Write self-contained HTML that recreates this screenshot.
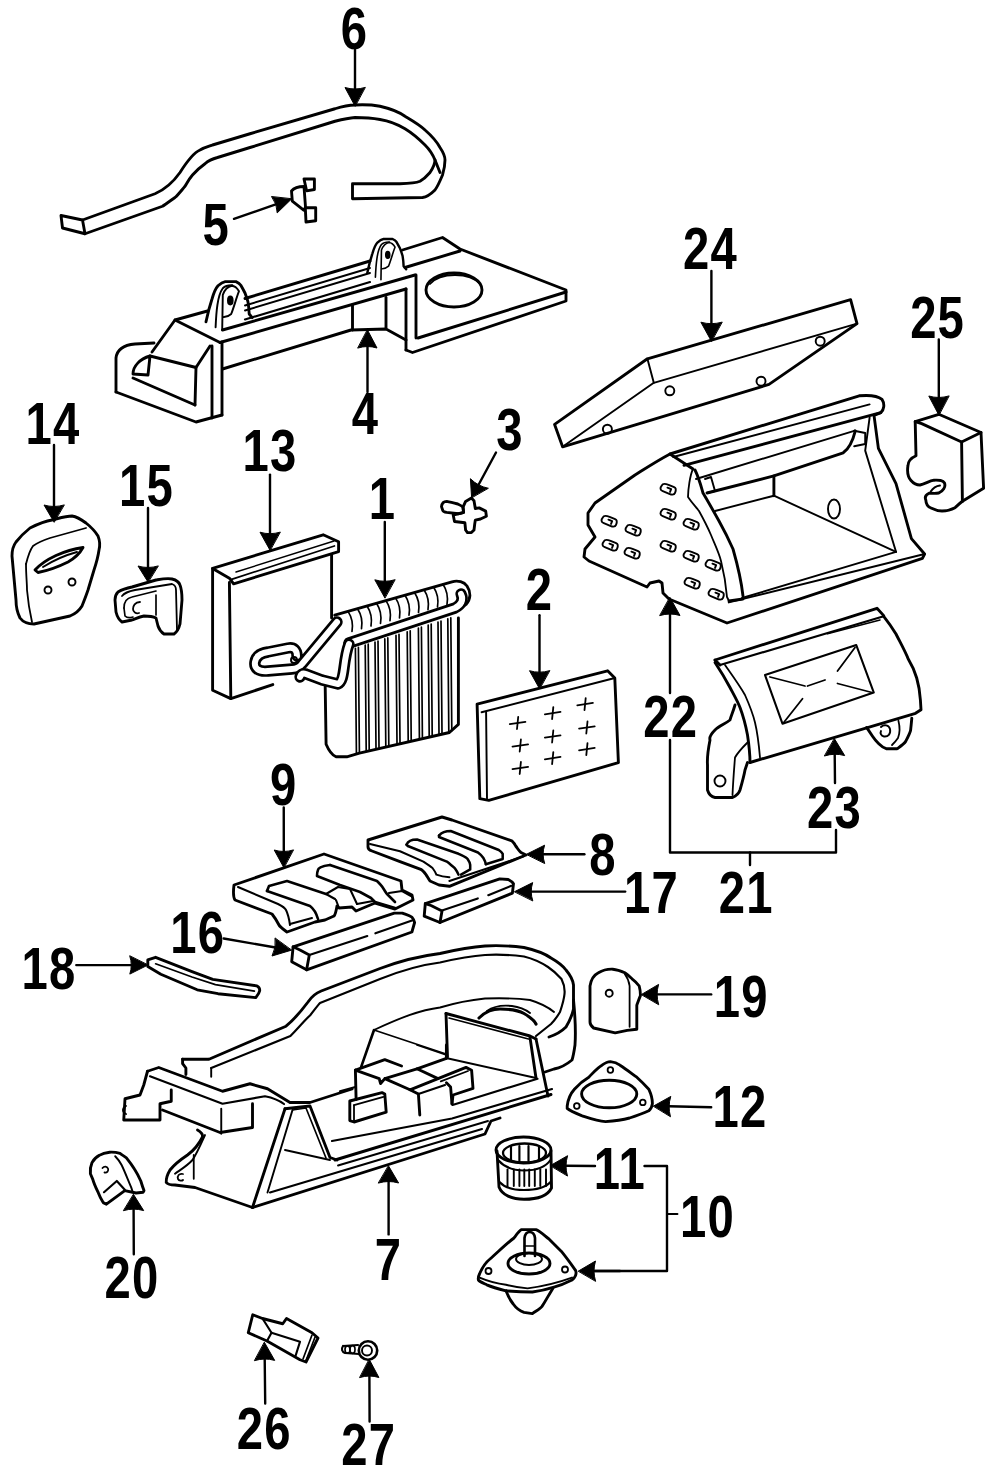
<!DOCTYPE html>
<html><head><meta charset="utf-8"><style>html,body{margin:0;padding:0;background:#fff;}svg{display:block;}</style></head><body>
<svg width="1000" height="1475" viewBox="0 0 1000 1475">
<rect width="1000" height="1475" fill="#fff"/>
<g stroke="#000" stroke-linejoin="round" stroke-linecap="round">
<path d="M82.5,220 L155,193.75 C166,189 174,181 180,172.5 C186,163 193,153 200,150 C205,147 210,146 212.5,145 L250,133.75 L335,108.75 C342,106.5 348,105 355,105 C365,104.5 373,105 380,106.25 C392,109 399,112 405,116.25 C413,121 420,125 425,130 C433,137 437,142 440,147.5 C443,152 445,156 445,160 C445,166 444,170 442.5,175 C440,181 438,186 435,190 C431,194 427,197 422.5,197.5 L352.5,198.75 L352.5,183.75 L400,183.75 C410,183.5 416,183 420,181.25 C424,179 427,176 430,172.5 C433,168 435,164 435,160 C433,155 430,150 425,145 C418,138 412,133 405,128.75 C397,124 389,121 380,119.5 C372,118 365,117.5 355,117.5 C348,118 342,119.5 335,121.25 L250,147.5 L217.5,157.5 C212,159 208,161 205,163.75 C199,168 196,171 192.5,175 C189,179 187,183 185,186.25 C181,191 178,195 175,197.5 C170,201 166,204 162.5,206.25 L85,233.75" stroke-width="2.88" fill="none" />
<path d="M61,215.5 L62.5,228 L85,233.75 L82.5,220 Z" stroke-width="2.88" fill="none" />
<path d="M435,160 L440,172.5" stroke-width="2.88" fill="none" />
<path d="M355,50 L355.0,89.5" stroke-width="2.40" fill="none"/>
<path d="M355.0,106.0 L345.0,87.5 Q355.0,90.5 365.0,87.5 Z" stroke-width="1" fill="#000"/>
<path d="M234,218.8 L276.4,204.2" stroke-width="2.40" fill="none"/>
<path d="M291.5,199.0 L277.2,212.9 Q277.3,203.9 271.7,196.8 Z" stroke-width="1" fill="#000"/>
<path d="M291.5,191 C294,188 298,186.5 304,186.5 L305.5,207 L304,210.3 L292.3,201.2 Z" stroke-width="2.88" fill="none" />
<path d="M304,179 L314.4,179 L314.4,189.5 L306.6,190.8 Z" stroke-width="2.88" fill="none" />
<path d="M305.3,207.7 L315.7,207.7 L315.7,220.7 L306,222 Z" stroke-width="2.88" fill="none" />
<path d="M116,392 L116,358 C117,349 124,345 135,344 L154,343" stroke-width="2.88" fill="none" />
<path d="M152,352 L175,320 L207.5,311" stroke-width="2.88" fill="none" />
<path d="M175,320 L220,342.5" stroke-width="2.88" fill="none" />
<path d="M116,392 L196,422 L222,415" stroke-width="2.88" fill="none" />
<path d="M212,346 L212,418" stroke-width="2.88" fill="none" />
<path d="M222,342 L222,415" stroke-width="2.88" fill="none" />
<path d="M150,356 L196,367.5 L210,346" stroke-width="2.88" fill="none" />
<path d="M196,367.5 L195,405" stroke-width="2.88" fill="none" />
<path d="M150,356 L148,375 L133,374 C133,366 140,359 150,356" stroke-width="2.88" fill="none" />
<path d="M133,378 L195,405" stroke-width="2.88" fill="none" />
<path d="M220,342.5 L406,289" stroke-width="2.88" fill="none" />
<path d="M222.5,330 L415,275" stroke-width="2.88" fill="none" />
<path d="M222.5,369 L351,330 L386,329 L406,340" stroke-width="2.88" fill="none" />
<path d="M352.5,305 L352.5,330" stroke-width="2.88" fill="none" />
<path d="M386,297.5 L386,327.5" stroke-width="2.88" fill="none" />
<path d="M245,298.5 L370,261" stroke-width="2.88" fill="none" />
<path d="M245,305.5 L370,268" stroke-width="1.92" fill="none" />
<path d="M245,310.5 L370,273" stroke-width="1.92" fill="none" />
<path d="M245,319.5 L370,282" stroke-width="2.16" fill="none" />
<path d="M406,289 L406,350" stroke-width="2.88" fill="none" />
<path d="M416,275 L416,338" stroke-width="2.88" fill="none" />
<path d="M206,321.8 C208,312 210,305 212,299 C214,292 216,288 218,285.8 C221,283 223,282 225.2,281.6 L236,281.6 C238,282.5 240,284 240.8,285.2 C243,289 244,291 245,293 C246.5,297 247.5,300 248,302 C248.7,306 249,310 249.2,314 L252.2,317.6" stroke-width="2.88" fill="none" />
<path d="M215.6,327.2 C216,318 216.5,311 217.4,305 C218.5,297 220,292 222.8,288.2 C225,286 228,285 232.4,285.2" stroke-width="1.92" fill="none" />
<path d="M222.2,330 L222.8,294.8 C225,289 228,286.5 231.8,285.8 C235,286 237,288 239,291.2 C236,299 234,307 231.2,314 C229,316 227,317 224,317" stroke-width="1.92" fill="none" />
<ellipse cx="230.3" cy="300.5" rx="2.4" ry="4.0" stroke-width="1.80" fill="#000"/>
<g transform="translate(387.5,239) scale(0.84) translate(-230,-281.6)">
<path d="M206,321.8 C208,312 210,305 212,299 C214,292 216,288 218,285.8 C221,283 223,282 225.2,281.6 L236,281.6 C238,282.5 240,284 240.8,285.2 C243,289 244,291 245,293 C246.5,297 247.5,300 248,302 C248.7,306 249,310 249.2,314 L252.2,317.6" stroke-width="2.88" fill="none" />
<path d="M215.6,327.2 C216,318 216.5,311 217.4,305 C218.5,297 220,292 222.8,288.2 C225,286 228,285 232.4,285.2" stroke-width="1.92" fill="none" />
<path d="M222.2,330 L222.8,294.8 C225,289 228,286.5 231.8,285.8 C235,286 237,288 239,291.2 C236,299 234,307 231.2,314 C229,316 227,317 224,317" stroke-width="1.92" fill="none" />
<ellipse cx="230.3" cy="300.5" rx="2.4" ry="4.0" stroke-width="1.80" fill="#000"/>
</g>
<path d="M402.5,250 L442.5,237.5 L460,249 L566,290 L566,301 L412.5,352.5 L406,350" stroke-width="2.88" fill="none" />
<path d="M405,267.5 L460,251" stroke-width="2.88" fill="none" />
<path d="M566,292 L418,338" stroke-width="2.88" fill="none" />
<ellipse cx="454" cy="290" rx="28" ry="17" stroke-width="2.88" fill="none"/>
<path d="M430,284 C440,272 470,272 480,284" stroke-width="1.80" fill="none" />
<path d="M367.5,392 L367.5,346.0" stroke-width="2.40" fill="none"/>
<path d="M367.5,330.0 L377.0,348.0 Q367.5,345.0 358.0,348.0 Z" stroke-width="1" fill="#000"/>
<path d="M647.4,358.8 L850.6,299.6 L857,323.6 L769,384.4 L562.6,446.8 L554.6,424.4 Z" stroke-width="2.88" fill="none" />
<path d="M647.4,358.8 L653.8,382.8 L857,323.6" stroke-width="1.92" fill="none" />
<path d="M653.8,382.8 L562.6,446.8" stroke-width="1.92" fill="none" />
<circle cx="669.8" cy="390.8" r="4.5" stroke-width="1.92" fill="none"/>
<circle cx="761" cy="381.2" r="4.5" stroke-width="1.92" fill="none"/>
<circle cx="820.2" cy="341.2" r="4.5" stroke-width="1.92" fill="none"/>
<circle cx="607.4" cy="429.2" r="4.5" stroke-width="1.92" fill="none"/>
<path d="M711.4,271 L711.4,324.2" stroke-width="2.40" fill="none"/>
<path d="M711.4,341.2 L700.9,322.2 Q711.4,325.2 721.9,322.2 Z" stroke-width="1" fill="#000"/>
<path d="M938.8,339.4 L938.8,398.0" stroke-width="2.40" fill="none"/>
<path d="M938.8,415.0 L928.8,396.0 Q938.8,399.0 948.8,396.0 Z" stroke-width="1" fill="#000"/>
<path d="M915.2,421.6 L938.8,414.3 L981,432.5 L961.6,442 L921.7,423.6 L915.2,421.6" stroke-width="2.88" fill="none" />
<path d="M961.6,442 L962.4,501.3" stroke-width="2.88" fill="none" />
<path d="M981,432.5 L983.6,488.3 L962.4,501.3" stroke-width="2.88" fill="none" />
<path d="M915.2,421.6 L916,455.8 C911,458 908,461 907.9,466 C907,472 908,477 911,480.5 C914,484 917,485 920,485 C925,484 929,481 934,480.2 C939,480 943,480 944.5,483 C946,487 943,491 938.8,493 C934,494 931,493 929,493.2 C925,495 925,498 925.8,500 C926,504 928,507 931,508 C935,510 938,511 942,511 C947,511 951,510 955,507.8 C958,505 960,503 962.4,501.3" stroke-width="2.88" fill="none" />
<path d="M930.7,491.6 C933,488 936,486 940,485.5" stroke-width="1.92" fill="none" />
<path d="M670,454 C655,462 640,472 635,475 L595,503 L588,513 L588,525 L595,537 L585,549 L584,557 L589,561 L647,587 L650,583 L659,581 L662,583 L663,593 L669,599 L727,623 L922.4,558.4 L924.6,554 L911.4,538.6 L896,483.6 L878.4,448.4 L874,415.4 L880.8,412.6 C884,410 885,404 882,399.4 C878,396 868,395 859.2,395.8 Z" stroke-width="2.88" fill="none" />
<path d="M670,454 L693,469" stroke-width="2.88" fill="none" />
<path d="M673.2,457 L869.6,404.4" stroke-width="1.92" fill="none" />
<path d="M684,465.4 L880.8,412.6" stroke-width="2.88" fill="none" />
<path d="M696,479 L854.2,430.8" stroke-width="1.92" fill="none" />
<path d="M707,493 L773.9,475.9 L843.2,452.8 C850,448 853,440 855.3,430.8" stroke-width="2.88" fill="none" />
<path d="M705,479 L711,477 L715,491 L707,493" stroke-width="1.92" fill="none" />
<path d="M715,511 L773.9,495.7" stroke-width="1.92" fill="none" />
<path d="M773.9,475.9 L773.9,495.7" stroke-width="2.88" fill="none" />
<path d="M773.9,495.7 L896,551.8" stroke-width="1.92" fill="none" />
<path d="M896,551.8 L865.2,450.6 L869.6,417.6" stroke-width="1.92" fill="none" />
<path d="M854.2,430.8 L865.2,433 L865.2,444 L854.2,446.2" stroke-width="1.92" fill="none" />
<path d="M742,598 L896,551.8" stroke-width="1.92" fill="none" />
<path d="M728.8,602.4 L924.6,554" stroke-width="1.92" fill="none" />
<path d="M729,601 L743,599" stroke-width="2.88" fill="none" />
<path d="M693,469 C690,475 688,490 688,497 C692,503 696,507 699,511 C704,520 708,528 711,535 C715,545 719,553 721,561 C724,573 726,585 727,597 L729,601" stroke-width="1.80" fill="none" />
<path d="M695,470 C699,478 701,486 703,493 C709,503 714,512 719,521 C724,530 729,540 733,549 C737,563 741,578 743,596" stroke-width="2.88" fill="none" />
<ellipse cx="834" cy="509" rx="6" ry="9.5" stroke-width="1.92" fill="none"/>
<path transform="translate(668,489) rotate(22)" d="M-7,-1 C-7,-4 -4,-4 -1,-4 L5,-4 C8,-4 8,-1 8,1 C8,4 5,4 3,4 L-4,4 C-7,4 -8,2 -7,-1 M-1,-1 L3,-1 L3,2" stroke-width="1.9" fill="none"/>
<path transform="translate(668,514) rotate(22)" d="M-7,-1 C-7,-4 -4,-4 -1,-4 L5,-4 C8,-4 8,-1 8,1 C8,4 5,4 3,4 L-4,4 C-7,4 -8,2 -7,-1 M-1,-1 L3,-1 L3,2" stroke-width="1.9" fill="none"/>
<path transform="translate(691,524) rotate(22)" d="M-7,-1 C-7,-4 -4,-4 -1,-4 L5,-4 C8,-4 8,-1 8,1 C8,4 5,4 3,4 L-4,4 C-7,4 -8,2 -7,-1 M-1,-1 L3,-1 L3,2" stroke-width="1.9" fill="none"/>
<path transform="translate(609,521) rotate(22)" d="M-7,-1 C-7,-4 -4,-4 -1,-4 L5,-4 C8,-4 8,-1 8,1 C8,4 5,4 3,4 L-4,4 C-7,4 -8,2 -7,-1 M-1,-1 L3,-1 L3,2" stroke-width="1.9" fill="none"/>
<path transform="translate(633,530) rotate(22)" d="M-7,-1 C-7,-4 -4,-4 -1,-4 L5,-4 C8,-4 8,-1 8,1 C8,4 5,4 3,4 L-4,4 C-7,4 -8,2 -7,-1 M-1,-1 L3,-1 L3,2" stroke-width="1.9" fill="none"/>
<path transform="translate(610,545) rotate(22)" d="M-7,-1 C-7,-4 -4,-4 -1,-4 L5,-4 C8,-4 8,-1 8,1 C8,4 5,4 3,4 L-4,4 C-7,4 -8,2 -7,-1 M-1,-1 L3,-1 L3,2" stroke-width="1.9" fill="none"/>
<path transform="translate(632,553) rotate(22)" d="M-7,-1 C-7,-4 -4,-4 -1,-4 L5,-4 C8,-4 8,-1 8,1 C8,4 5,4 3,4 L-4,4 C-7,4 -8,2 -7,-1 M-1,-1 L3,-1 L3,2" stroke-width="1.9" fill="none"/>
<path transform="translate(668,546) rotate(22)" d="M-7,-1 C-7,-4 -4,-4 -1,-4 L5,-4 C8,-4 8,-1 8,1 C8,4 5,4 3,4 L-4,4 C-7,4 -8,2 -7,-1 M-1,-1 L3,-1 L3,2" stroke-width="1.9" fill="none"/>
<path transform="translate(691,556) rotate(22)" d="M-7,-1 C-7,-4 -4,-4 -1,-4 L5,-4 C8,-4 8,-1 8,1 C8,4 5,4 3,4 L-4,4 C-7,4 -8,2 -7,-1 M-1,-1 L3,-1 L3,2" stroke-width="1.9" fill="none"/>
<path transform="translate(713,565) rotate(22)" d="M-7,-1 C-7,-4 -4,-4 -1,-4 L5,-4 C8,-4 8,-1 8,1 C8,4 5,4 3,4 L-4,4 C-7,4 -8,2 -7,-1 M-1,-1 L3,-1 L3,2" stroke-width="1.9" fill="none"/>
<path transform="translate(692,583) rotate(22)" d="M-7,-1 C-7,-4 -4,-4 -1,-4 L5,-4 C8,-4 8,-1 8,1 C8,4 5,4 3,4 L-4,4 C-7,4 -8,2 -7,-1 M-1,-1 L3,-1 L3,2" stroke-width="1.9" fill="none"/>
<path transform="translate(716,594) rotate(22)" d="M-7,-1 C-7,-4 -4,-4 -1,-4 L5,-4 C8,-4 8,-1 8,1 C8,4 5,4 3,4 L-4,4 C-7,4 -8,2 -7,-1 M-1,-1 L3,-1 L3,2" stroke-width="1.9" fill="none"/>
<path d="M670,693 L670.0,613.5" stroke-width="2.40" fill="none"/>
<path d="M670.0,597.5 L680.0,615.5 Q670.0,612.5 660.0,615.5 Z" stroke-width="1" fill="#000"/>
<path d="M670,740 L670,852.5 L836,852.5 L836,830" stroke-width="2.40" fill="none" />
<path d="M750,852.5 L750,865" stroke-width="2.40" fill="none" />
<path d="M715,660 L877,608.3 L883.7,615.6" stroke-width="2.88" fill="none" />
<path d="M720,665 L883.7,616.3" stroke-width="2.16" fill="none" />
<path d="M715,660 L720,665" stroke-width="2.88" fill="none" />
<path d="M883.7,616.3 C889,623 893,629 896,634 C900,642 905,651 908,658.4 C912,665 915,672 916.7,678 C919,686 920,693 920.4,700 L921,709.7 L915.5,713.3 L750,762.5" stroke-width="2.88" fill="none" />
<path d="M715,662.5 C720,670 726,680 730,687.5 C734,695 738,702 740,707.5 C744,718 746,727 747.5,735 C749,745 750,754 750,762.5" stroke-width="2.88" fill="none" />
<path d="M725,665 C732,675 740,686 745,695 C749,704 753,714 755,722.5 C758,735 759,746 760,757.5" stroke-width="1.80" fill="none" />
<path d="M735,705 C733,712 731,716 730,720 C725,724 719,726 715,730 C711,734 709,737 710,740 C708,750 707,758 707.5,765 L707.5,790 C709,795 712,797 715,797.5 L732.5,797.5 C736,796 739,793 740,790 C742,783 744,776 745,770 L747.5,762.5" stroke-width="2.88" fill="none" />
<path d="M747.5,742.5 C742,748 738,752 735,757.5 C734,770 733,783 732.5,795" stroke-width="1.80" fill="none" />
<circle cx="720" cy="781" r="5.5" stroke-width="1.92" fill="none"/>
<path d="M765,675 L856.25,645 L873.75,692.5 L782.5,723.75 Z" stroke-width="2.16" fill="none" />
<path d="M770,677 L805,686" stroke-width="1.80" fill="none" />
<path d="M837.5,671 L855,647.5" stroke-width="1.80" fill="none" />
<path d="M837.5,683.5 L872,692.5" stroke-width="1.80" fill="none" />
<path d="M802.5,698.75 L783.75,722.5" stroke-width="1.80" fill="none" />
<path d="M807.5,686 L825,680" stroke-width="1.80" fill="none" />
<path d="M827.5,633.75 L880,620" stroke-width="1.56" fill="none" />
<path d="M866.6,727.4 C869,731 871,734 872.7,736.5 C875,740 877,742 878.8,743.8 C881,746 884,748 886.2,748.7 L897.2,748.7 C901,746 904,744 905.7,741.4 C908,737 910,733 910.6,730.4 C911,726 911.5,722 911.8,718.2" stroke-width="2.88" fill="none" />
<path d="M881,727 C884,724 889,725 890,729 C891,734 888,737 884,736.5 C881,736 880,733 881,731" stroke-width="1.92" fill="none" />
<path d="M898.4,720.6 C900,727 900,733 898,738 C896,741 894,743 892,745" stroke-width="1.80" fill="none" />
<path d="M835,783 L834.7,753.7" stroke-width="2.40" fill="none"/>
<path d="M834.5,738.8 L844.7,755.6 Q834.7,752.7 824.7,755.9 Z" stroke-width="1" fill="#000"/>
<path d="M54,445 L54.0,507.0" stroke-width="2.40" fill="none"/>
<path d="M54.0,522.0 L44.0,505.0 Q54.0,508.0 64.0,505.0 Z" stroke-width="1" fill="#000"/>
<path d="M30,528 C38,524 45,521 52,520 C60,518 66,516 72,516 C78,517 82,520 86,523 C91,527 95,531 98,536 C100,541 100,546 99,550 C98,557 96,564 94,570 L88,590 C86,596 84,601 82,606 C79,611 75,614 70,616 L34,624 C28,624 23,622 20,618 C17,612 16,606 16,600 L12,556 C12,550 13,546 16,542 C20,537 25,532 30,528 Z" stroke-width="2.88" fill="none" />
<path d="M26,564 C28,556 30,550 33,546 C38,542 44,540 50,538 L86,528" stroke-width="1.80" fill="none" />
<path d="M26,564 C26,575 27,583 27,590 C28,602 30,613 32,622" stroke-width="1.80" fill="none" />
<path d="M35,570 C45,559 65,550 83,547.5 C80,553 75,558 68,562 C58,567 46,571 38,572.5 Z" stroke-width="2.88" fill="none" />
<path d="M43,567 C54,560 66,555 77,552" stroke-width="1.92" fill="none" />
<circle cx="48" cy="590" r="3.5" stroke-width="1.92" fill="none"/>
<circle cx="72" cy="582" r="3.5" stroke-width="1.92" fill="none"/>
<path d="M148,508 L148.0,568.0" stroke-width="2.40" fill="none"/>
<path d="M148.0,582.0 L138.0,566.0 Q148.0,569.0 158.0,566.0 Z" stroke-width="1" fill="#000"/>
<path d="M118,592 C123,589 127,588 132,587 L156,580 C162,579 167,578 172,579 C176,580 179,582 180,585 C182,590 182,595 182,600 L180,624 C179,628 177,632 174,634 L164,634 C161,632 159,629 158,626 L156,618 C152,616 148,616 144,616 C139,617 135,619 132,620 L122,622 C119,620 117,616 116,612 L115,600 C115,597 116,594 118,592 Z" stroke-width="2.88" fill="none" />
<path d="M122,596 C125,592 130,591 135,590 L172,584 C175,585 176,587 176,590 L177,630" stroke-width="1.80" fill="none" />
<path d="M124,608 C124,601 127,598 132,597 L156,591" stroke-width="1.68" fill="none" />
<path d="M124,608 L125,616 C127,618 130,618 133,617" stroke-width="1.68" fill="none" />
<path d="M140,602 C135,602 133,606 133,609 C133,612 136,614 139,613" stroke-width="1.80" fill="none" />
<path d="M156,595 L156,615" stroke-width="1.68" fill="none" />
<path d="M270,474.6 L270.0,534.2" stroke-width="2.40" fill="none"/>
<path d="M270.0,550.2 L260.0,532.2 Q270.0,535.2 280.0,532.2 Z" stroke-width="1" fill="#000"/>
<path d="M212.6,568.4 L323.2,534.8 L338.6,541.8 L338.6,551.6 L233.6,583.8 L229.4,578.2 Z" stroke-width="2.88" fill="none" />
<path d="M230.8,579.6 L334.4,546" stroke-width="1.80" fill="none" />
<path d="M236,572 L334,541" stroke-width="1.44" fill="none" />
<path d="M212.6,568.4 L212.6,690.2 L230.8,698.6 L272.8,684.6" stroke-width="2.88" fill="none" />
<path d="M229.4,582.4 L230.8,698.6" stroke-width="2.88" fill="none" />
<path d="M331.6,554.4 L331.6,618" stroke-width="2.88" fill="none" />
<path d="M384.8,522 L384.8,581.8" stroke-width="2.40" fill="none"/>
<path d="M384.8,597.8 L374.8,579.8 Q384.8,582.8 394.8,579.8 Z" stroke-width="1" fill="#000"/>
<path d="M325.2,686.6 L326.1,744.2 C329,751 332,755 336,756.8 L346.8,756.8 L359.4,753.2 L449.4,732.5 L458.4,724.4 L458.4,618" stroke-width="2.88" fill="none" />
<path d="M355.4,648.237 L356.4,753.132" stroke-width="1.68" fill="none" />
<path d="M358.4,647.237 L359.4,752.132" stroke-width="1.68" fill="none" />
<path d="M365.2,645.12 L366.2,750.849" stroke-width="1.68" fill="none" />
<path d="M368.2,644.12 L369.2,749.849" stroke-width="1.68" fill="none" />
<path d="M375,642.004 L376,748.565" stroke-width="1.68" fill="none" />
<path d="M378,641.004 L379,747.565" stroke-width="1.68" fill="none" />
<path d="M384.8,638.888 L385.8,746.282" stroke-width="1.68" fill="none" />
<path d="M387.8,637.888 L388.8,745.282" stroke-width="1.68" fill="none" />
<path d="M396,635.326 L397,743.672" stroke-width="1.68" fill="none" />
<path d="M399,634.326 L400,742.672" stroke-width="1.68" fill="none" />
<path d="M407.2,631.764 L408.2,741.063" stroke-width="1.68" fill="none" />
<path d="M410.2,630.764 L411.2,740.063" stroke-width="1.68" fill="none" />
<path d="M418.4,628.203 L419.4,738.453" stroke-width="1.68" fill="none" />
<path d="M421.4,627.203 L422.4,737.453" stroke-width="1.68" fill="none" />
<path d="M428.2,625.086 L429.2,736.17" stroke-width="1.68" fill="none" />
<path d="M431.2,624.086 L432.2,735.17" stroke-width="1.68" fill="none" />
<path d="M438,621.97 L439,733.886" stroke-width="1.68" fill="none" />
<path d="M441,620.97 L442,732.886" stroke-width="1.68" fill="none" />
<path d="M447.8,618.854 L448.8,731.603" stroke-width="1.68" fill="none" />
<path d="M450.8,617.854 L451.8,730.603" stroke-width="1.68" fill="none" />
<path d="M334.7,615.2 L452,581.8 C458,580 464,582 467,586 C471,592 471,599 466,604.5 C462,608 459,609 456.6,609.4" stroke-width="2.88" fill="none" />
<path d="M348.0,611.4 C352.0,617.4 353.0,625.4 352.0,631.4" stroke-width="1.68" fill="none" />
<path d="M357.5,608.7 C361.5,614.7 362.5,622.7 361.5,628.7" stroke-width="1.68" fill="none" />
<path d="M367.0,606.0 C371.0,612.0 372.0,620.0 371.0,626.0" stroke-width="1.68" fill="none" />
<path d="M376.5,603.3 C380.5,609.3 381.5,617.3 380.5,623.3" stroke-width="1.68" fill="none" />
<path d="M386.0,600.6 C390.0,606.6 391.0,614.6 390.0,620.6" stroke-width="1.68" fill="none" />
<path d="M395.5,597.9 C399.5,603.9 400.5,611.9 399.5,617.9" stroke-width="1.68" fill="none" />
<path d="M405.0,595.2 C409.0,601.2 410.0,609.2 409.0,615.2" stroke-width="1.68" fill="none" />
<path d="M414.5,592.5 C418.5,598.5 419.5,606.5 418.5,612.5" stroke-width="1.68" fill="none" />
<path d="M424.0,589.7 C428.0,595.7 429.0,603.7 428.0,609.7" stroke-width="1.68" fill="none" />
<path d="M433.5,587.0 C437.5,593.0 438.5,601.0 437.5,607.0" stroke-width="1.68" fill="none" />
<path d="M443.0,584.3 C447.0,590.3 448.0,598.3 447.0,604.3" stroke-width="1.68" fill="none" />
<path d="M349,643 L455,608 C461,605 464,600 461,594" stroke-width="11.40" fill="none" />
<path d="M349,643 L455,608 C461,605 464,600 461,594" stroke-width="6.00" fill="none" stroke="#fff"/>
<path d="M337,622 L302,664 C299,668 296,669 292,669 L268,671 C258,672 254,668 255,662 C256,656 261,653 268,652 L288,648 C294,647 297,650 297,656" stroke-width="11.40" fill="none" />
<path d="M337,622 L302,664 C299,668 296,669 292,669 L268,671 C258,672 254,668 255,662 C256,656 261,653 268,652 L288,648 C294,647 297,650 297,656" stroke-width="6.00" fill="none" stroke="#fff"/>
<path d="M349,644 C346,652 345,660 344,668 C343,676 342,682 338,684 L322,680 L306,674 C303,673 301,674 300,677" stroke-width="11.40" fill="none" />
<path d="M349,644 C346,652 345,660 344,668 C343,676 342,682 338,684 L322,680 L306,674 C303,673 301,674 300,677" stroke-width="6.00" fill="none" stroke="#fff"/>
<circle cx="294" cy="660" r="3" stroke-width="1.92" fill="none"/>
<path d="M496,452.5 L478.3,485.2" stroke-width="2.40" fill="none"/>
<path d="M471.6,497.5 L470.4,478.7 Q477.8,486.1 488.0,488.2 Z" stroke-width="1" fill="#000"/>
<path d="M465.6,501.4 L471.4,498.1 L474,500.7 L475.3,508.5 L479.2,507.9 L485.7,511.1 L486.4,516.3 L480.5,519 L475.3,520.2 L474.7,524.1 L474,530 L471.4,532.6 L467.5,532.6 L465.6,530 L464.9,522.8 L454.5,521.5 L453.2,515 L463.6,512.4 L463,507.2 Z" stroke-width="2.88" fill="none" />
<path d="M441.5,506.6 C442,503 444,501.4 446.7,501.4 C450,502 454,503 457.8,504 C460,505 462,506 463,507.2 L463.6,512.4 C461,513.5 459,513.7 458.4,513.7 L446.7,512.4 C444,512 443,511 442.8,510.5 Z" stroke-width="2.88" fill="none" />
<path d="M539.5,615.2 L539.5,672.7" stroke-width="2.40" fill="none"/>
<path d="M539.5,688.7 L529.5,670.7 Q539.5,673.7 549.5,670.7 Z" stroke-width="1" fill="#000"/>
<path d="M477.1,704.1 L607.6,670.8 L614.8,678 L618.4,762.6 L488.8,800.4 L479.8,798.6 Z" stroke-width="2.88" fill="none" />
<path d="M481.6,712.2 L614.8,678" stroke-width="1.92" fill="none" />
<path d="M486.1,712.2 L487,798.6" stroke-width="1.92" fill="none" />
<path d="M509.8,724.2 L525.4,721.8" stroke-width="1.80" fill="none" />
<path d="M518.2,717 L517,729" stroke-width="1.80" fill="none" />
<path d="M544.9,714.3 L560.5,711.9" stroke-width="1.80" fill="none" />
<path d="M553.3,707.1 L552.1,719.1" stroke-width="1.80" fill="none" />
<path d="M577.3,705.3 L592.9,702.9" stroke-width="1.80" fill="none" />
<path d="M585.7,698.1 L584.5,710.1" stroke-width="1.80" fill="none" />
<path d="M512.5,746.7 L528.1,744.3" stroke-width="1.80" fill="none" />
<path d="M520.9,739.5 L519.7,751.5" stroke-width="1.80" fill="none" />
<path d="M544.9,737.7 L560.5,735.3" stroke-width="1.80" fill="none" />
<path d="M553.3,730.5 L552.1,742.5" stroke-width="1.80" fill="none" />
<path d="M579.1,728.7 L594.7,726.3" stroke-width="1.80" fill="none" />
<path d="M587.5,721.5 L586.3,733.5" stroke-width="1.80" fill="none" />
<path d="M512.5,769.2 L528.1,766.8" stroke-width="1.80" fill="none" />
<path d="M520.9,762 L519.7,774" stroke-width="1.80" fill="none" />
<path d="M544.9,759.3 L560.5,756.9" stroke-width="1.80" fill="none" />
<path d="M553.3,752.1 L552.1,764.1" stroke-width="1.80" fill="none" />
<path d="M579.1,750.3 L594.7,747.9" stroke-width="1.80" fill="none" />
<path d="M587.5,743.1 L586.3,755.1" stroke-width="1.80" fill="none" />
<path d="M283.75,807.5 L283.8,852.0" stroke-width="2.40" fill="none"/>
<path d="M283.8,867.5 L274.2,850.0 Q283.8,853.0 293.2,850.0 Z" stroke-width="1" fill="#000"/>
<path d="M234,885 L324,854 L401,881 L402,890 L412,895 L413,900 L395,909 L375,903 L356,911 L352,907 L339,908 L337,906 C336,912 335,915 334,916 L325,920 L315,922 L287,932 C283,929 280,927 279,925 C277,921 276,919 272,914 L235,900 C233,897 233,893 234,885 Z" stroke-width="2.88" fill="none" />
<path d="M238,887 L278,904 C282,906 285,908 286,910 C288,914 289,918 290,925" stroke-width="2.04" fill="none" />
<path d="M267,891 L269,886 L287,881 L326,894" stroke-width="2.64" fill="none" />
<path d="M267,891 L290,899 L310,906 C314,909 316,912 318,919" stroke-width="2.64" fill="none" />
<path d="M290,924 L312,918" stroke-width="2.04" fill="none" />
<path d="M330,865 L377,881 C380,884 382,886 383,888 C385,891 386,893 387,894 L395,902" stroke-width="2.64" fill="none" />
<path d="M330,865 C322,866 318,868 318,870 C317,872 317,874 317,876 L340,885 L360,892 L371,898 L375,902 L395,908" stroke-width="2.64" fill="none" />
<path d="M389,893 L402,891 L411,896" stroke-width="2.04" fill="none" />
<path d="M326,894 L338,887 L350,889 L357,904" stroke-width="2.04" fill="none" />
<path d="M336,900 L339,908" stroke-width="2.04" fill="none" />
<path d="M335,899 L326,894" stroke-width="2.04" fill="none" />
<path d="M357,904 L373,901" stroke-width="2.04" fill="none" />
<path d="M584.4,854.2 L542.6,854.2" stroke-width="2.40" fill="none"/>
<path d="M526.6,854.2 L544.6,845.2 Q541.6,854.2 544.6,863.2 Z" stroke-width="1" fill="#000"/>
<path d="M368,840 L442,817 L452,820 L511.8,840.8 C514,843 515,844.5 515.7,846 C518,849 519,851 521,852.5 L526,855 L449.4,886.3 L439,885 L430,881 C428,878 427,876 426,874.6 C424,872 422,870 420.8,869.4 L400,861.6 L372,851 C369,850 368,849 368,847 Z" stroke-width="2.88" fill="none" />
<path d="M370,844 L400,851.2 L423.4,861.6 C427,864 430,866 432.5,868 C434,870 435.5,872 436.4,874.6 C440,876 445,877 449.4,877.2" stroke-width="2.04" fill="none" />
<path d="M449.4,881 L523.5,856.4" stroke-width="2.04" fill="none" />
<path d="M406.5,844.7 C408,841 412,839.5 417,839.5 L458.5,853.8 C463,856 466,857 467.6,859 C469,861 470,863 470.2,865 L470.2,869.4 L461,874.6" stroke-width="2.52" fill="none" />
<path d="M406.5,844.7 L407.8,846 L446.8,861.6 C450,864 452,866 454.6,868 C456,870 457.5,872 458.5,874.6" stroke-width="2.52" fill="none" />
<path d="M439,835.6 C442,832 446,831 450.7,831 L498.8,850 C501,851.5 502,852.5 502.7,853.8 L502.7,859 L485.8,864.2" stroke-width="2.52" fill="none" />
<path d="M439,835.6 L439,837 L478,852.5 C480,854 482,856 483.2,857.7 C484.5,860 485.5,862 485.8,864.2" stroke-width="2.52" fill="none" />
<path d="M625.2,891.6 L530.7,891.6" stroke-width="2.40" fill="none"/>
<path d="M514.7,891.6 L532.7,882.6 Q529.7,891.6 532.7,900.6 Z" stroke-width="1" fill="#000"/>
<path d="M425.3,903.6 L499.8,878.9 L508.2,879.5 C511,881 512.5,882 513.5,883.7 L512.4,893.1 L440,922.5 L424.2,916.2 Z" stroke-width="2.88" fill="none" />
<path d="M425.3,903.6 L431,905.5 L442,911 L440,922.5" stroke-width="2.88" fill="none" />
<path d="M442,910.4 L477.8,898.4" stroke-width="2.16" fill="none" />
<path d="M488.3,895.2 L511.4,885.8" stroke-width="2.16" fill="none" />
<path d="M223.7,938.5 L275.5,947.5" stroke-width="2.40" fill="none"/>
<path d="M291.3,950.2 L272.0,956.0 Q276.5,947.6 275.1,938.3 Z" stroke-width="1" fill="#000"/>
<path d="M293.1,946.8 L394.3,913.1 L402.4,913.1 C406,914.5 409.5,915.5 411.9,917.1 C413.5,919 414.3,920.5 414.6,922.5 L411.9,932 L306.6,969.8 L291.7,961.7 Z" stroke-width="2.88" fill="none" />
<path d="M293.1,946.8 L300,950 L309.3,955 L306.6,969.8" stroke-width="2.88" fill="none" />
<path d="M309.3,955 L367.3,936" stroke-width="2.16" fill="none" />
<path d="M375.4,933.3 L412,920.5" stroke-width="2.16" fill="none" />
<path d="M76.3,965.1 L131.8,965.1" stroke-width="2.40" fill="none"/>
<path d="M147.8,965.1 L129.8,974.1 Q132.8,965.1 129.8,956.1 Z" stroke-width="1" fill="#000"/>
<path d="M147.8,959.9 L155.6,957.3 L192,971.6 L212.8,979.4 L257,985.9 C259,987 260,989 259.6,991.1 C259,994 257,996 255.7,997.6 L218,993.7 L197.2,989.8 L160.8,974.2 L147.8,966.4 Z" stroke-width="2.88" fill="none" />
<path d="M155.6,963.8 L192,977 L215.4,984.6 L254.4,991.1" stroke-width="1.68" fill="none" />
<path d="M182.6,1059.2 L209,1059.2 L286,1026.2 C296,1018 302,1010 308,1002 C312,996 316,993 321.2,991 L380,968.5 C400,961 420,956 440,953.5 C455,950 470,947 485,946 C500,945 512,946 524,947.5 C535,950 544,953 551,958 C558,962 563,966 566,970 C571,976 573,980 573.5,985 L573.5,1009 C572,1016 569,1022 566,1027 C561,1032 555,1035 549,1037" stroke-width="2.88" fill="none" />
<path d="M211.2,1068 L290.4,1036.1 C300,1026 305,1020 310.2,1015.2 C316,1008 318,1005 320,1003 L380,979 C400,971 420,965 440,962.5 C455,959 470,956 485,955 C500,954 512,955 524,956.5 C534,959 542,963 548,967 C554,971 558,975 561.5,979 C564,984 565,989 564.5,994 C564,1000 562,1006 560,1012 C557,1017 554,1021 551,1024 L536,1036" stroke-width="2.16" fill="none" />
<path d="M573.5,1000 C575,1015 576,1030 575,1045 C574,1052 573,1057 572,1060 C566,1065 560,1068 554,1069 L545,1072" stroke-width="2.88" fill="none" />
<path d="M182.6,1059.2 L182.6,1063.6 L185.9,1068 L185.9,1074.6" stroke-width="2.88" fill="none" />
<path d="M211.2,1068 L211.2,1076.8" stroke-width="1.92" fill="none" />
<path d="M147.5,1071.25 L158.75,1067.5 L222.5,1091.25 L250,1083.75 L267.5,1088.75 L290,1102.5 L310,1102.5 L352,1089" stroke-width="2.88" fill="none" />
<path d="M150,1076.25 L222.5,1103.75 L265,1096.25 C274,1098 280,1101 284,1104" stroke-width="2.16" fill="none" />
<path d="M147.5,1071.25 L143.75,1085 L140,1095 L125,1098.75 L123.75,1120 L160,1120 L160,1103.75 L171.25,1101.25 L171.25,1090" stroke-width="2.88" fill="none" />
<path d="M126,1106 C122,1108 122,1112 126,1114" stroke-width="1.92" fill="none" />
<path d="M162.5,1110 L220,1132.5 L252.5,1127.5 L252.5,1103.75" stroke-width="2.88" fill="none" />
<path d="M221.25,1108.75 L221.25,1133.75" stroke-width="1.92" fill="none" />
<path d="M197.5,1130 C201,1132 203,1134 202.5,1137 C198,1146 193,1151 187.5,1155 C180,1160 174,1165 170,1170 C167,1175 166,1179 166.25,1182.5 C168,1185 171,1185 175,1185 L195,1187.5 L252.5,1207.5" stroke-width="2.88" fill="none" />
<path d="M205,1135 C200,1146 197,1153 192.5,1160 C187,1166 180,1170 175,1173.75" stroke-width="1.92" fill="none" />
<path d="M183,1174 C179,1173 177,1176 178,1179 C179,1181 182,1181 183,1180" stroke-width="1.80" fill="none" />
<path d="M193.75,1155 L193.75,1178.75" stroke-width="1.80" fill="none" />
<path d="M252.5,1207.5 L285,1108.75" stroke-width="2.88" fill="none" />
<path d="M267.5,1192.5 L292.5,1110" stroke-width="1.92" fill="none" />
<path d="M285,1108.75 L310,1106 L330,1157.5 L337,1160" stroke-width="2.88" fill="none" />
<path d="M292.5,1110 L306,1108 L326,1158" stroke-width="1.68" fill="none" />
<path d="M285,1150 L330,1160" stroke-width="1.92" fill="none" />
<path d="M252.5,1207.5 L485,1134 L491,1121 L500,1118" stroke-width="2.88" fill="none" />
<path d="M270,1192.5 L482,1129" stroke-width="2.16" fill="none" />
<path d="M335,1160 L551,1094.5" stroke-width="2.88" fill="none" />
<path d="M338,1165.5 L488,1121" stroke-width="1.92" fill="none" />
<path d="M332,1141 L452,1118.5 L552,1089" stroke-width="2.16" fill="none" />
<path d="M374,1030 C400,1018 420,1010 440,1007.5 C455,1003 470,1000 485,998.5 C500,998 515,998 530,1000 C540,1003 548,1007 554,1012" stroke-width="1.92" fill="none" />
<path d="M374,1030 L446,1054" stroke-width="1.80" fill="none" />
<path d="M446,1058 L536,1078" stroke-width="1.80" fill="none" />
<path d="M479,1018 C485,1012 492,1009 500,1009 C510,1009 518,1010 524,1013.5 C530,1017 534,1020 536,1024" stroke-width="3.12" fill="none" />
<path d="M487,1011 C494,1006 503,1005 512,1006 C520,1007 526,1010 530,1013" stroke-width="1.92" fill="none" />
<path d="M446,1013.5 L530,1036 L536,1039" stroke-width="2.88" fill="none" />
<path d="M446,1013.5 L447.5,1057" stroke-width="2.88" fill="none" />
<path d="M530,1037.5 L536,1078" stroke-width="2.88" fill="none" />
<path d="M536,1039 L548,1096" stroke-width="2.88" fill="none" />
<path d="M449,1018 L528.5,1039" stroke-width="1.56" fill="none" />
<path d="M452.5,1105 L537.5,1078.75" stroke-width="2.16" fill="none" />
<path d="M374,1030 L361,1067.4" stroke-width="2.64" fill="none" />
<path d="M355.4,1070.2 L384.8,1059.7 L401.6,1066" stroke-width="2.88" fill="none" />
<path d="M355.4,1070.2 L356.1,1099.6" stroke-width="2.88" fill="none" />
<path d="M355.4,1070.2 L379.2,1078.6 L380.6,1083.5 L384.8,1078.6 L417,1068.8 L438,1078.6 L410,1089.8 L384.8,1078.6" stroke-width="2.88" fill="none" />
<path d="M410,1089.8 L418.4,1094 L419.8,1115" stroke-width="2.88" fill="none" />
<path d="M418.4,1094 L445,1085" stroke-width="2.16" fill="none" />
<path d="M417,1068.8 L446.4,1058.3" stroke-width="2.88" fill="none" />
<path d="M438,1078.6 L466,1067.4 L471.6,1070.2 L473,1088.4 L453,1095 L452,1103.8" stroke-width="2.88" fill="none" />
<path d="M440.8,1081.4 L468,1071" stroke-width="1.80" fill="none" />
<path d="M446.4,1082.8 L450.6,1087 L452,1103.8" stroke-width="2.88" fill="none" />
<path d="M349.8,1101 L382,1092.6 L384.8,1094 L386.2,1112.2 L354,1122 L349.8,1120.6 Z" stroke-width="2.88" fill="none" />
<path d="M354,1105.2 L383.4,1096.8" stroke-width="1.80" fill="none" />
<path d="M354,1105.2 L354,1122" stroke-width="1.80" fill="none" />
<path d="M446.4,1045 L446.4,1058.3" stroke-width="2.88" fill="none" />
<path d="M417,1045 L446.4,1054.8" stroke-width="1.80" fill="none" />
<path d="M340,1091.2 L355.4,1087" stroke-width="2.16" fill="none" />
<path d="M388.6,1234.4 L388.6,1181.0" stroke-width="2.40" fill="none"/>
<path d="M388.6,1166.0 L398.6,1183.0 Q388.6,1180.0 378.6,1183.0 Z" stroke-width="1" fill="#000"/>
<path d="M711.2,994.4 L656.6,994.4" stroke-width="2.40" fill="none"/>
<path d="M641.6,994.4 L658.6,984.4 Q655.6,994.4 658.6,1004.4 Z" stroke-width="1" fill="#000"/>
<path d="M590,986 C591,980 594,975 598.4,972.8 C603,970 608,969 612.8,969.2 C617,969.5 621,971 624.8,972.8 C628,975 630,977 632,978.8 C635,981 637,983 639.2,986 C640,989 640.5,992 640.4,995.6 C639,999 638,1002 636.8,1005.2 L636.8,1029.2 L627.2,1030.4 L615.2,1032.8 L593.6,1028 C591,1026 590,1024 590,1022 Z" stroke-width="2.88" fill="none" />
<path d="M624.8,974 C627,977 629,981 629.6,986 L629.6,1026.8" stroke-width="1.80" fill="none" />
<circle cx="609.2" cy="993.2" r="3.5" stroke-width="1.92" fill="none"/>
<path d="M711.2,1107.2 L668.6,1106.3" stroke-width="2.40" fill="none"/>
<path d="M653.6,1106.0 L670.8,1096.4 Q667.6,1106.3 670.4,1116.4 Z" stroke-width="1" fill="#000"/>
<path d="M567.2,1106 C568,1099 571,1093 574.4,1089.2 C579,1084 584,1080 588.8,1077.2 C593,1073 597,1068 602,1065.2 C605,1063 608,1061.6 610.4,1061.6 C614,1062 617,1063 620,1065.2 C626,1069 631,1073 636.8,1077.2 C641,1081 645,1085 648.8,1089.2 C651,1094 652.5,1099 652.4,1103.6 C652,1107 651,1109 648.8,1110.8 C642,1114 636,1116 629.6,1118 C622,1120 614,1121 605.6,1121.6 C597,1121 589,1118 581.6,1115.6 C575,1113 570,1111 567.2,1108.4 Z" stroke-width="2.88" fill="none" />
<ellipse cx="609.2" cy="1094" rx="27.6" ry="13.8" stroke-width="2.88" fill="none"/>
<circle cx="610.4" cy="1070" r="2.8" stroke-width="1.80" fill="none"/>
<circle cx="576.8" cy="1106" r="2.8" stroke-width="1.80" fill="none"/>
<circle cx="642.8" cy="1102.4" r="2.8" stroke-width="1.80" fill="none"/>
<path d="M595,1166 L565.5,1165.7" stroke-width="2.40" fill="none"/>
<path d="M550.5,1165.5 L567.6,1155.7 Q564.5,1165.7 567.4,1175.7 Z" stroke-width="1" fill="#000"/>
<ellipse cx="523.5" cy="1150" rx="27.5" ry="13" stroke-width="2.88" fill="none"/>
<ellipse cx="524.5" cy="1153" rx="21.5" ry="9.5" stroke-width="2.28" fill="none"/>
<path d="M511,1146 L511,1161" stroke-width="2.16" fill="none" />
<path d="M519.4,1146 L519.4,1161" stroke-width="2.16" fill="none" />
<path d="M528.5,1146 L528.5,1161" stroke-width="2.16" fill="none" />
<path d="M539,1146 L539,1161" stroke-width="2.16" fill="none" />
<path d="M497,1151 L499,1187 C502,1195 512,1199.3 524,1199.3 C538,1199.3 548,1195 551.5,1188 L551,1151" stroke-width="2.88" fill="none" />
<path d="M498,1160 C505,1168 515,1170.5 524,1170.5 C535,1170.5 545,1168 550.5,1160" stroke-width="2.16" fill="none" />
<path d="M499.5,1182 C504,1187 513,1190 524,1190 C537,1190 546,1187 550.5,1182" stroke-width="2.16" fill="none" />
<path d="M507.5,1169.5 L507.5,1186" stroke-width="1.92" fill="none" />
<path d="M513.8,1169.5 L513.8,1186" stroke-width="1.92" fill="none" />
<path d="M519.4,1169.5 L519.4,1186" stroke-width="1.92" fill="none" />
<path d="M524.3,1169.5 L524.3,1186" stroke-width="1.92" fill="none" />
<path d="M529.2,1169.5 L529.2,1186" stroke-width="1.92" fill="none" />
<path d="M534.8,1169.5 L534.8,1186" stroke-width="1.92" fill="none" />
<path d="M540.3,1169.5 L540.3,1186" stroke-width="1.92" fill="none" />
<path d="M546,1169.5 L546,1186" stroke-width="1.92" fill="none" />
<path d="M644.5,1166 L667,1166 L667,1271 L595,1271" stroke-width="2.40" fill="none" />
<path d="M620,1271 L593.5,1271.0" stroke-width="2.40" fill="none"/>
<path d="M578.5,1271.0 L595.5,1261.0 Q592.5,1271.0 595.5,1281.0 Z" stroke-width="1" fill="#000"/>
<path d="M667,1214 L677.5,1214" stroke-width="1.92" fill="none" />
<path d="M479.5,1274 C482,1268 485,1263 490,1259 C498,1252 506,1244 514,1238 C517,1234 519,1231 521.6,1229.6 L536,1229.6 C540,1231 545,1236 549.2,1239.2 C553,1243 557,1247 561.2,1251.2 C566,1257 571,1264 575.6,1270.4 C577,1274 575,1278 572,1280 C566,1283 560,1285.5 554,1287.2 C547,1289.5 540,1291 532.4,1292 C523,1292 514,1291.5 506,1290.8 C499,1289 492,1287 486.8,1284.8 C483,1283 480,1282 478.4,1280 C478,1278 478.5,1276 479.5,1274 Z" stroke-width="2.88" fill="none" />
<path d="M479.6,1277.6 C490,1282 500,1284 506,1284.8 C515,1287 522,1288 527.6,1288.4 C545,1286 560,1282 572,1277.6" stroke-width="1.92" fill="none" />
<path d="M506,1290.8 C508,1296 510,1300 513.2,1304 C516,1308 520,1311 524,1312.4 L532.4,1313.6 C536,1311 540,1309 542,1306.4 C545,1302 547,1298 549.2,1294.4 L552.8,1288.4" stroke-width="2.88" fill="none" />
<ellipse cx="529" cy="1263.5" rx="21" ry="10.5" stroke-width="2.88" fill="none"/>
<ellipse cx="529" cy="1259" rx="13" ry="6" stroke-width="1.92" fill="none"/>
<path d="M524.5,1256 L524.5,1238 C525,1234 527,1232 529.6,1232 C532,1232 534.5,1234 535,1238 L535,1256" stroke-width="2.64" fill="none" />
<path d="M524.5,1246 L535,1246" stroke-width="1.68" fill="none" />
<circle cx="488.5" cy="1271" r="3" stroke-width="1.80" fill="none"/>
<circle cx="565" cy="1269.5" r="3" stroke-width="1.80" fill="none"/>
<path d="M133.8,1254.2 L133.6,1208.6" stroke-width="2.40" fill="none"/>
<path d="M133.6,1194.6 L143.7,1210.6 Q133.6,1207.6 123.7,1210.6 Z" stroke-width="1" fill="#000"/>
<path d="M90.4,1173.8 C90,1169 90.5,1166 92,1162.6 C94,1159 96,1157 99.2,1155.4 C103,1153 106,1152.5 109.6,1152.2 C113,1152 117,1152.5 120,1153.4 C122,1155 124,1156 126.4,1157.8 C129,1161 132,1165 134.4,1169 C137,1173 139,1177 140.8,1181 C142,1185 143,1188 144,1190.6 L143.2,1192.2 L136,1193 L124.8,1190.6 L106.4,1204.2 L103.2,1202.6 C101,1199 99.5,1196 98.4,1193 C96,1188 94,1184 92.8,1179.4 Z" stroke-width="2.88" fill="none" />
<path d="M115.2,1156.2 C118,1159 120,1162 121.6,1165 C125,1172 128,1180 131.2,1187.4 L132.8,1192.2" stroke-width="1.92" fill="none" />
<path d="M104,1192.2 L116.8,1181 L124.8,1189.8" stroke-width="2.16" fill="none" />
<path d="M102.5,1168 C104,1166 107,1166 108,1168.5 C109,1171 107,1173 104.5,1172.5" stroke-width="1.80" fill="none" />
<path d="M265.2,1403.6 L264.7,1358.5" stroke-width="2.40" fill="none"/>
<path d="M264.5,1342.5 L274.7,1360.4 Q264.7,1357.5 254.7,1360.6 Z" stroke-width="1" fill="#000"/>
<path d="M252.75,1314.75 L248.25,1332.75 L267,1341 L300,1359.75 L306,1362 L318,1338 L312,1332.75 L286.5,1318.5 L282.75,1323.75 L262.5,1318.5 Z" stroke-width="2.88" fill="none" />
<path d="M262.5,1318.5 L271.5,1332.75 L267,1341" stroke-width="2.16" fill="none" />
<path d="M271.5,1332.75 L300,1341.75 L295.5,1356" stroke-width="2.16" fill="none" />
<path d="M312,1335 L303,1359" stroke-width="1.68" fill="none" />
<path d="M315,1337.25 L306,1360.5" stroke-width="1.68" fill="none" />
<path d="M369.6,1421.6 L369.4,1375.5" stroke-width="2.40" fill="none"/>
<path d="M369.3,1359.5 L378.9,1377.5 Q369.4,1374.5 359.9,1377.5 Z" stroke-width="1" fill="#000"/>
<path d="M343,1346 C341,1349 342,1352 345,1353 L359,1354 M343,1346 L358,1345" stroke-width="2.16" fill="none" />
<ellipse cx="347.5" cy="1349.5" rx="2.5" ry="3.6" stroke-width="1.68" fill="none"/>
<ellipse cx="352.5" cy="1349.5" rx="2.5" ry="3.8" stroke-width="1.68" fill="none"/>
<circle cx="368" cy="1350.5" r="9.2" stroke-width="2.64" fill="none"/>
<circle cx="367" cy="1350.5" r="5" stroke-width="1.92" fill="none"/>
</g>
<g font-family="Liberation Sans" font-weight="bold" font-size="59" text-anchor="middle" letter-spacing="1.5" fill="#000">
<text transform="translate(354.5,48.5) scale(0.8,1)">6</text>
<text transform="translate(216.3,245.3) scale(0.8,1)">5</text>
<text transform="translate(365.5,433.5) scale(0.8,1)">4</text>
<text transform="translate(710.5,269.0) scale(0.8,1)">24</text>
<text transform="translate(937.6,337.5) scale(0.8,1)">25</text>
<text transform="translate(670.7,737.0) scale(0.8,1)">22</text>
<text transform="translate(746.3,913.0) scale(0.8,1)">21</text>
<text transform="translate(834.4,828.0) scale(0.8,1)">23</text>
<text transform="translate(53,443.5) scale(0.8,1)">14</text>
<text transform="translate(146.5,505.5) scale(0.8,1)">15</text>
<text transform="translate(270,471.0) scale(0.8,1)">13</text>
<text transform="translate(382.5,518.5) scale(0.8,1)">1</text>
<text transform="translate(510,449.5) scale(0.8,1)">3</text>
<text transform="translate(539.5,609.5) scale(0.8,1)">2</text>
<text transform="translate(283.75,804.5) scale(0.8,1)">9</text>
<text transform="translate(603,875.1) scale(0.8,1)">8</text>
<text transform="translate(651.5,912.5) scale(0.8,1)">17</text>
<text transform="translate(197.7,953.3) scale(0.8,1)">16</text>
<text transform="translate(49,989.0) scale(0.8,1)">18</text>
<text transform="translate(388.5,1279.8) scale(0.8,1)">7</text>
<text transform="translate(741.2,1016.5) scale(0.8,1)">19</text>
<text transform="translate(740,1126.9) scale(0.8,1)">12</text>
<text transform="translate(619.8,1189.0) scale(0.8,1)">11</text>
<text transform="translate(707.5,1237.0) scale(0.8,1)">10</text>
<text transform="translate(132,1297.9) scale(0.8,1)">20</text>
<text transform="translate(264.3,1449.1) scale(0.8,1)">26</text>
<text transform="translate(368.7,1465.3) scale(0.8,1)">27</text>
</g></svg>
</body></html>
